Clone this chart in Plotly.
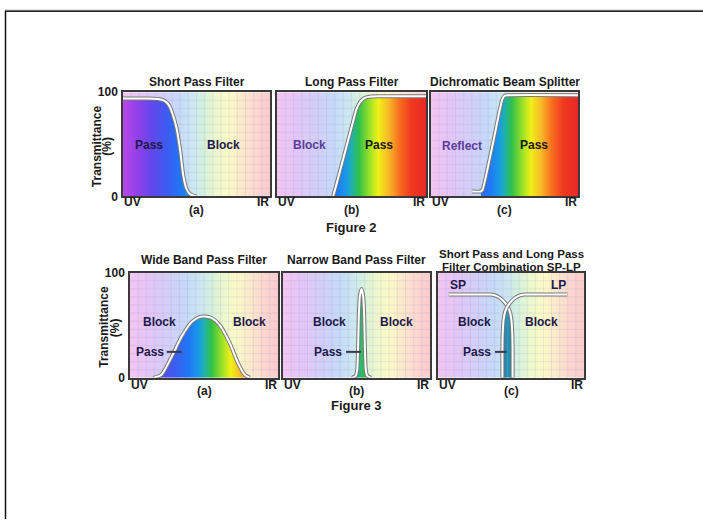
import plotly.graph_objects as go

# ---------------- data (x = relative wavelength UV->IR, T = transmittance %) ----------------
short_pass_x = [0, 0.15, 0.24, 0.28, 0.31, 0.34, 0.365, 0.39, 0.41, 0.43, 0.45, 0.48, 0.5]
short_pass_t = [94, 94, 93.5, 92, 88, 78, 65, 43, 20, 8, 3, 0.5, 0]

long_pass_x = [0.377, 0.40, 0.45, 0.50, 0.534, 0.56, 0.59, 0.63, 0.7, 1.0]
long_pass_t = [0, 12, 39, 66, 84, 91, 94.5, 95.8, 96, 96]

splitter_x = [0.28, 0.34, 0.35, 0.42, 0.485, 0.50, 0.52, 1.0]
splitter_t = [4.7, 4.7, 6, 50, 93, 96.5, 97, 97]

wide_band_x = [0.157, 0.213, 0.281, 0.348, 0.416, 0.472, 0.506, 0.551, 0.607, 0.674, 0.73, 0.775, 0.81]
wide_band_t = [0, 3, 20, 39, 53, 58, 58.4, 57, 50, 33, 14, 3, 0]

narrow_band_x = [0.47, 0.495, 0.505, 0.511, 0.516, 0.523, 0.534, 0.545, 0.552, 0.557, 0.563, 0.573, 0.6]
narrow_band_t = [0, 2, 8, 30, 60, 78, 84.5, 78, 60, 30, 8, 2, 0]

combo_sp_x = [0.073, 0.2, 0.36, 0.40, 0.43, 0.455, 0.476, 0.492, 0.503, 0.509, 0.511, 0.511]
combo_sp_t = [79.3, 79.3, 79.2, 78, 75.5, 72, 68, 63, 55, 42, 25, 0]
combo_lp_x = [0.441, 0.441, 0.443, 0.449, 0.460, 0.476, 0.497, 0.522, 0.552, 0.592, 0.75, 0.886]
combo_lp_t = [0, 25, 42, 55, 63, 68, 72, 75.5, 78, 79.2, 79.3, 79.3]
combo_cross_x = 0.476

titles_fig2 = ["Short Pass Filter", "Long Pass Filter", "Dichromatic Beam Splitter"]
titles_fig3 = ["Wide Band Pass Filter", "Narrow Band Pass Filter",
               ["Short Pass and Long Pass", "Filter Combination SP-LP"]]
sub_labels = ["(a)", "(b)", "(c)"]

# ---------------- colours ----------------
PASTEL = [[0.00, "#f2c6f2"], [0.12, "#e4c6f6"], [0.25, "#d4cef8"], [0.38, "#c6daf8"],
          [0.48, "#cce8f0"], [0.55, "#d6f2dc"], [0.63, "#eef8cc"], [0.72, "#fcfac8"],
          [0.82, "#fce6cc"], [0.92, "#fcd4d0"], [1.00, "#f8cccc"]]
SPECTRUM = [[0.00, "#b848e8"], [0.10, "#9040e8"], [0.20, "#6048ec"], [0.30, "#3c5cf0"],
            [0.40, "#2078f4"], [0.46, "#1898e8"], [0.50, "#20b0b0"], [0.55, "#30c048"],
            [0.62, "#98e028"], [0.68, "#f0f018"], [0.75, "#f8b828"], [0.82, "#f87020"],
            [0.90, "#f03a20"], [1.00, "#e82828"]]
TEAL = [[0.0, "#2a62a8"], [0.5, "#2a98b8"], [1.0, "#1f7890"]]

FONT = "Arial, Liberation Sans, sans-serif"
DARK = "#1a1a1a"
NAVY = "#1e1a4a"
PURPLE = "#5a3d9a"

W, H = 703, 526


def fx(p):
    return p / W


def fy(p):
    return 1 - p / H


# panel boxes in pixels: (left, right, top, bottom)
boxes = [(123, 270, 87.5, 194.5), (277, 426, 87.5, 194.5), (431, 578, 87.5, 194.5),
         (130, 278, 273, 381), (283, 430, 273, 381), (438, 584, 273, 381)]

fig = go.Figure()
layout = {}
for i, (l, r, t, b) in enumerate(boxes):
    n = "" if i == 0 else str(i + 1)
    first = i in (0, 3)
    layout["xaxis" + n] = dict(domain=[fx(l), fx(r)], range=[0, 1], anchor="y" + n,
                               showgrid=False, zeroline=False, showticklabels=False,
                               showline=True, mirror=True, linecolor="#3a3a3a", linewidth=1.5,
                               fixedrange=True)
    layout["yaxis" + n] = dict(domain=[fy(b), fy(t)], range=[0, 100], anchor="x" + n,
                               showgrid=False, zeroline=False, showticklabels=first,
                               tickvals=[0, 100], ticktext=["<b>0</b>", "<b>100</b>"],
                               tickfont=dict(size=12, color=DARK, family=FONT),
                               ticks="", ticklabelstandoff=1,
                               showline=True, mirror=True, linecolor="#3a3a3a", linewidth=1.5,
                               fixedrange=True)


def axis_ref(i):
    return ("x" if i == 0 else "x" + str(i + 1), "y" if i == 0 else "y" + str(i + 1))


# pastel spectrum background and faint grid on each panel
for i in range(6):
    xr, yr = axis_ref(i)
    fig.add_trace(go.Heatmap(x=[0, 1], y=[0, 100], z=[[0, 1], [0, 1]], colorscale=PASTEL,
                             zmin=0, zmax=1, zsmooth="best", showscale=False,
                             hoverinfo="skip", xaxis=xr, yaxis=yr))
    gx, gy = [], []
    for k in range(1, 18):
        gx += [k / 18, k / 18, None]
        gy += [0, 100, None]
    for k in range(1, 13):
        gx += [0, 1, None]
        gy += [k * 100 / 13, k * 100 / 13, None]
    fig.add_trace(go.Scatter(x=gx, y=gy, mode="lines", hoverinfo="skip",
                             line=dict(color="rgba(140,140,190,0.16)", width=1),
                             xaxis=xr, yaxis=yr))


def filled(xs, ts, i, scale=SPECTRUM, fill="tozeroy"):
    xr, yr = axis_ref(i)
    fig.add_trace(go.Scatter(x=xs, y=ts, mode="lines", fill=fill,
                             line=dict(width=0, shape="spline", smoothing=0.6),
                             fillgradient=dict(type="horizontal", colorscale=scale,
                                               start=0 if scale is SPECTRUM else min(xs),
                                               stop=1 if scale is SPECTRUM else max(xs)),
                             hoverinfo="skip", xaxis=xr, yaxis=yr))


def outlined(xs, ts, i):
    xr, yr = axis_ref(i)
    fig.add_trace(go.Scatter(x=xs, y=ts, mode="lines", hoverinfo="skip",
                             line=dict(color="#7a7a7a", width=4, shape="spline", smoothing=0.6),
                             xaxis=xr, yaxis=yr))
    fig.add_trace(go.Scatter(x=xs, y=ts, mode="lines", hoverinfo="skip",
                             line=dict(color="#ffffff", width=2, shape="spline", smoothing=0.6),
                             xaxis=xr, yaxis=yr))


# Figure 2
filled(short_pass_x, short_pass_t, 0)
outlined(short_pass_x, short_pass_t, 0)
filled(long_pass_x, long_pass_t, 1)
outlined(long_pass_x, long_pass_t, 1)
sx = [x for x in splitter_x if x >= 0.34]
st = [t for x, t in zip(splitter_x, splitter_t) if x >= 0.34]
filled(sx, st, 2)
outlined(splitter_x, splitter_t, 2)

# Figure 3
filled(wide_band_x, wide_band_t, 3)
outlined(wide_band_x, wide_band_t, 3)
filled(narrow_band_x, narrow_band_t, 4)
outlined(narrow_band_x, narrow_band_t, 4)
band_x = [x for x in combo_lp_x if x <= combo_cross_x] + [x for x in combo_sp_x if x > combo_cross_x]
band_t = [t for x, t in zip(combo_lp_x, combo_lp_t) if x <= combo_cross_x] + \
         [t for x, t in zip(combo_sp_x, combo_sp_t) if x > combo_cross_x]
filled(band_x, band_t, 5, scale=TEAL, fill="toself")
outlined(combo_sp_x, combo_sp_t, 5)
outlined(combo_lp_x, combo_lp_t, 5)

# ---------------- text ----------------
ann = []


def text(s, x, y, size=12, color=DARK, angle=0, xanchor="center", pad=1):
    ann.append(dict(text="<b>" + s + "</b>", x=fx(x), y=fy(y), xref="paper", yref="paper",
                    showarrow=False, xanchor=xanchor, yanchor="middle", textangle=angle,
                    borderpad=pad, font=dict(size=size, color=color, family=FONT)))


all_titles = titles_fig2 + titles_fig3
for i, (l, r, t, b) in enumerate(boxes):
    title = all_titles[i]
    if isinstance(title, list):
        text(title[0], (l + r) / 2, 254, size=11.5, pad=0)
        text(title[1], (l + r) / 2, 267.5, size=11.5, pad=0)
    else:
        text(title, (l + r) / 2, 77.5 if i < 3 else 260)
    uv_y, sub_y = (b + 6, b + 14) if i < 3 else (b + 7.5, b + 13)
    text("UV", l - 1, uv_y, xanchor="left")
    text("IR", r + 1, uv_y, xanchor="right")
    text(sub_labels[i % 3], (l + r) / 2, sub_y, pad=0)

text("Figure 2", 351, 227, size=13)
text("Figure 3", 357, 409.5, size=13, pad=0)

for (xa, xb, yc) in [(97, 107.5, 143), (104.5, 115, 329)]:
    text("Transmittance", xa, yc, angle=-90)
    text("(%)", xb, yc, angle=-90)

# region labels
text("Pass", 149.3, 141.7, color=NAVY)
text("Block", 223, 141.7, color=NAVY)
text("Block", 309, 142, color=PURPLE)
text("Pass", 379, 141.7, color=DARK)
text("Reflect", 461.7, 142.3, color=PURPLE)
text("Pass", 534, 141.7, color=DARK)
text("Block", 159, 324, color=NAVY)
text("Block", 249.3, 324, color=NAVY)
text("Pass", 150, 354.3, color=NAVY)
text("Block", 329, 324, color=NAVY)
text("Block", 396.3, 324, color=NAVY)
text("Pass", 327.7, 354.3, color=NAVY)
text("SP", 458.3, 285.7, color=NAVY)
text("LP", 558.3, 285.7, color=NAVY)
text("Block", 474.3, 324, color=NAVY)
text("Block", 541.7, 324, color=NAVY)
text("Pass", 476.7, 354.3, color=NAVY)

shapes = []
# pointer dashes from the "Pass" labels
for (a, b) in [(166.7, 181.7), (346, 361), (495, 506.7)]:
    shapes.append(dict(type="line", xref="paper", yref="paper", x0=fx(a), x1=fx(b),
                       y0=fy(354.3), y1=fy(354.3), line=dict(color="#3a3a4a", width=2)))
# page frame (top and left edges)
shapes.append(dict(type="line", xref="paper", yref="paper", x0=fx(5), x1=1, y0=fy(3.3), y1=fy(3.3),
                   line=dict(color="#9a9a9a", width=1)))
shapes.append(dict(type="line", xref="paper", yref="paper", x0=fx(5), x1=1, y0=fy(4.3), y1=fy(4.3),
                   line=dict(color="#222222", width=1.5)))
shapes.append(dict(type="line", xref="paper", yref="paper", x0=fx(5.5), x1=fx(5.5), y0=fy(4), y1=0,
                   line=dict(color="#111111", width=1.5)))

fig.update_layout(width=W, height=H, margin=dict(l=0, r=0, t=0, b=0),
                  paper_bgcolor="white", plot_bgcolor="white", showlegend=False,
                  annotations=ann, shapes=shapes, **layout)

fig.write_html("out.html")
